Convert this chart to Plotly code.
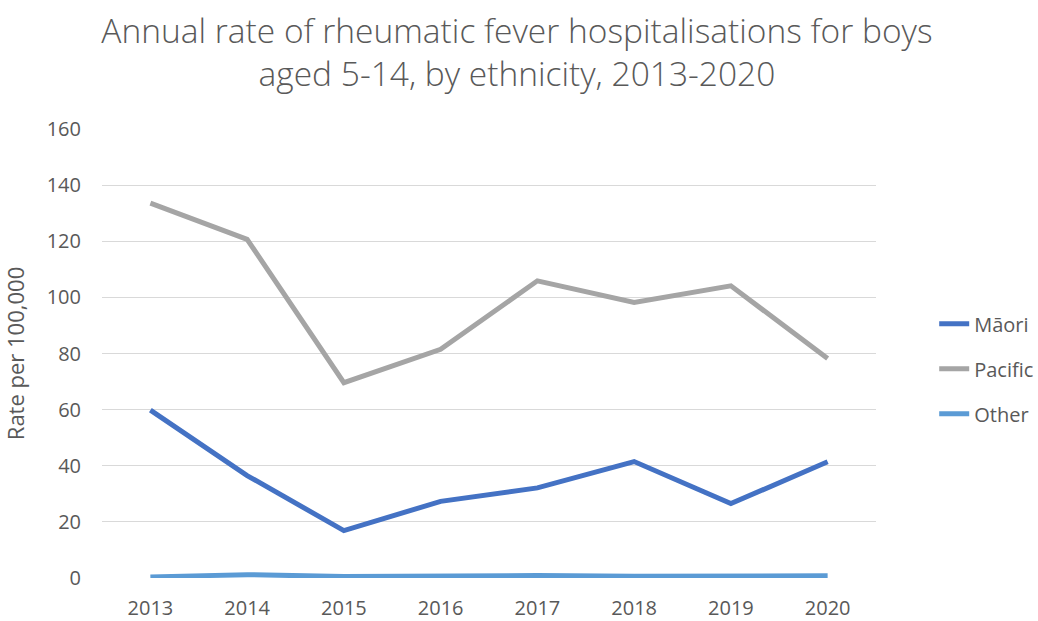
import plotly.graph_objects as go

years = ["2013", "2014", "2015", "2016", "2017", "2018", "2019", "2020"]
maori = [59.8, 36.5, 16.9, 27.3, 32.1, 41.5, 26.5, 41.4]
pacific = [133.6, 120.7, 69.6, 81.5, 105.9, 98.2, 104.1, 78.2]
other = [0.4, 1.2, 0.5, 0.9, 0.9, 0.6, 0.6, 0.8]

series = [("Māori", maori, "#4472C4"), ("Pacific", pacific, "#A5A5A5"), ("Other", other, "#5B9BD5")]

FONT = "Open Sans"
GREY = "#595959"

fig = go.Figure()
for i, (name, vals, col) in enumerate(series):
    fig.add_trace(go.Scatter(x=years, y=vals, name=name, mode="lines",
                             line=dict(color=col, width=5), legendgroup=str(i)))

fig.update_layout(
    width=1038, height=621,
    margin=dict(l=102, r=162, t=129, b=43, autoexpand=False),
    paper_bgcolor="white", plot_bgcolor="white",
    font=dict(family=FONT, color=GREY, size=20),
    title=dict(text="Annual rate of rheumatic fever hospitalisations for boys<br>aged 5-14, by ethnicity, 2013-2020",
               x=0.498, xanchor="center", y=0.931, yanchor="top",
               font=dict(family=FONT, size=33.5, color=GREY, weight=300)),
    xaxis=dict(type="category", range=[-0.5, 7.5], showgrid=False, showline=False,
               ticks="", ticklabelstandoff=16, automargin=False,
               tickfont=dict(size=20, color=GREY)),
    yaxis=dict(range=[0, 160], dtick=20, showgrid=True, gridcolor="#D9D9D9", gridwidth=1,
               zeroline=False, showline=False, ticks="", ticklabelstandoff=20, automargin=True,
               tickfont=dict(size=20, color=GREY),
               title=dict(text="Rate per 100,000", font=dict(size=22, color=GREY), standoff=19)),
    legend=dict(xref="container", yref="container", x=0.9, xanchor="left", y=0.406, yanchor="middle",
                traceorder="grouped", tracegroupgap=16,
                font=dict(size=20, color=GREY), bgcolor="rgba(0,0,0,0)"),
)

fig.write_html("out.html", config={"displayModeBar": False},
               post_script="document.body.style.margin='0';document.body.style.overflow='hidden';")
